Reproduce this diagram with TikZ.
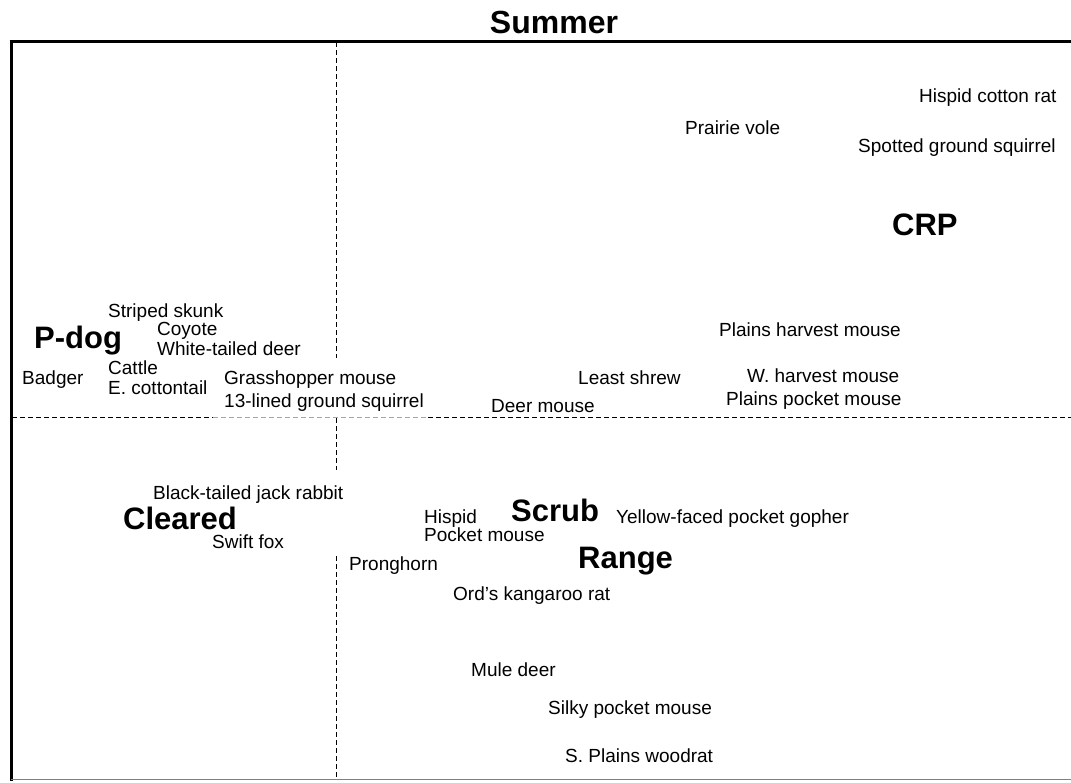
\documentclass[tikz,border=0pt]{standalone}
\usepackage{fontspec}
\setmainfont{Liberation Sans}
\begin{document}
\begin{tikzpicture}[x=1pt,y=-1pt,
  sp/.style={anchor=base west,inner sep=0pt,font=\fontsize{19}{22}\selectfont},
  grp/.style={anchor=base west,inner sep=0pt,font=\fontsize{31}{36}\selectfont\bfseries},
  axis/.style={line width=1pt,dash pattern=on 5pt off 3pt},
  frame/.style={line width=3pt}]
\useasboundingbox (0,0) rectangle (1071,782);
\fill[white] (0,0) rectangle (1071,782);

% title
\node[anchor=base,inner sep=0pt,font=\fontsize{32}{36}\selectfont\bfseries] (title) at (554,33) {Summer};

% frame
\coordinate (tl) at (11,41);
\coordinate (tr) at (1071,41);
\coordinate (bl) at (11,779);
\coordinate (br) at (1071,779);
\draw[frame] (9.5,41) -- (tr);
\draw[frame] (tl) -- (11,780.5);
\draw[gray,line width=1pt] (bl) -- (br);

% axes
\coordinate (h0) at (12,417);
\coordinate (h1) at (213,417);
\coordinate (h2) at (428,417);
\coordinate (h3) at (1071,417);
\draw[axis] (h0) -- (h1);
\draw[axis,gray!70] (h1) -- (h2);
\draw[axis] (h2) -- (h3);
\coordinate (v0) at (336,42);
\coordinate (v1) at (336,358);
\coordinate (v2) at (336,418);
\coordinate (v3) at (336,470);
\coordinate (v4) at (336,556);
\coordinate (v5) at (336,779);
\draw[axis] (v0) -- (v1);
\draw[axis] (v2) -- (v3);
\draw[axis] (v4) -- (v5);

% group labels
\node[grp] (crp) at (892,235) {CRP};
\node[grp] (pdog) at (34,348) {P-dog};
\node[grp] (cleared) at (123,529) {Cleared};
\node[grp] (scrub) at (511,521) {Scrub};
\node[grp] (range) at (578,568) {Range};

% species labels
\node[sp] (hcr) at (919,102) {Hispid cotton rat};
\node[sp] (pv) at (685,134) {Prairie vole};
\node[sp] (sgs) at (858,152) {Spotted ground squirrel};
\node[sp] (ssk) at (108,317) {Striped skunk};
\node[sp] (coy) at (157,335) {Coyote};
\node[sp] (wtd) at (157,355) {White-tailed deer};
\node[sp] (cat) at (108,374) {Cattle};
\node[sp] (bad) at (22,384) {Badger};
\node[sp] (ect) at (108,394) {E. cottontail};
\node[sp] (gm) at (224,384) {Grasshopper mouse};
\node[sp] (tlgs) at (224,407) {13-lined ground squirrel};
\node[sp] (phm) at (719,336) {Plains harvest mouse};
\node[sp] (ls) at (578,384) {Least shrew};
\node[sp] (whm) at (747,382) {W. harvest mouse};
\node[sp] (ppm) at (726,405) {Plains pocket mouse};
\node[sp] (dm) at (491,412) {Deer mouse};
\node[sp] (btjr) at (153,499) {Black-tailed jack rabbit};
\node[sp] (sf) at (212,548) {Swift fox};
\node[sp] (hp) at (424,523) {Hispid};
\node[sp] (pm) at (424,541) {Pocket mouse};
\node[sp] (yfpg) at (616,523) {Yellow-faced pocket gopher};
\node[sp] (ph) at (349,570) {Pronghorn};
\node[sp] (okr) at (453,600) {Ord’s kangaroo rat};
\node[sp] (md) at (471,676) {Mule deer};
\node[sp] (spm) at (548,714) {Silky pocket mouse};
\node[sp] (spw) at (565,762) {S. Plains woodrat};
\end{tikzpicture}
\end{document}
